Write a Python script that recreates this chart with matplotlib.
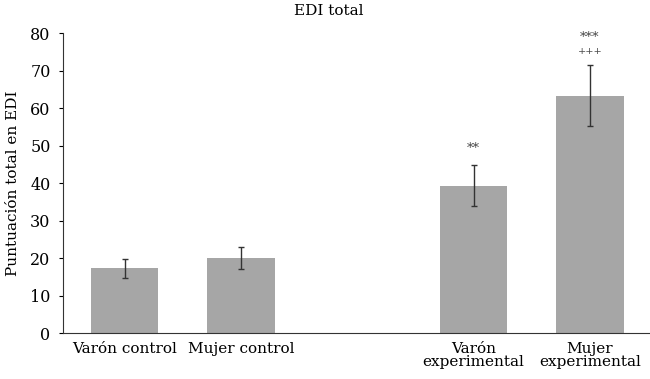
import matplotlib.pyplot as plt
import numpy as np

plt.rcParams['font.family'] = ['DejaVu Serif']

labels = ["Varón control", "Mujer control", "Varón\nexperimental", "Mujer\nexperimental"]
positions = [0, 1, 3, 4]
means = [17.3, 20.1, 39.4, 63.4]
errors = [2.5, 2.85, 5.45, 8.1]
marks = ["", "", "**", "***"]
marks2 = ["", "", "", "+++"]

fig = plt.figure(figsize=(6.5, 3.79), dpi=100)
ax = fig.add_axes([0.097, 0.1206, 0.903, 0.7914])

ax.bar(positions, means, width=0.58, color='#a6a6a6')
ax.errorbar(positions, means, yerr=errors, fmt='none', ecolor='#333333',
            elinewidth=1, capsize=2, capthick=1)

for x, m, e, s, s2 in zip(positions, means, errors, marks, marks2):
    top = m + e
    if s2:
        ax.text(x, top + 3.7, s2, ha='center', va='center', fontsize=7, color='#444444')
        top += 2.9
    if s:
        ax.text(x, top + 4.4, s, ha='center', va='center', fontsize=9.5, color='#444444')

ax.set_xlim(-0.528, 4.515)
ax.set_ylim(0, 80)
ax.set_yticks(np.arange(0, 81, 10))
ax.set_xticks(positions)
ax.set_xticklabels(labels, fontsize=11, linespacing=0.95)
ax.tick_params(axis='x', length=0, pad=6)
ax.tick_params(axis='y', length=3, labelsize=11.5, direction='out', pad=6)
ax.spines['top'].set_visible(False)
ax.spines['right'].set_visible(False)
ax.spines['left'].set_color('#333333')
ax.spines['bottom'].set_color('#333333')
ax.set_ylabel("Puntuación total en EDI", fontsize=11, labelpad=7)
fig.text(0.505, 0.972, "EDI total", ha='center', va='center', fontsize=11)

fig.savefig("out.png", dpi=100)
